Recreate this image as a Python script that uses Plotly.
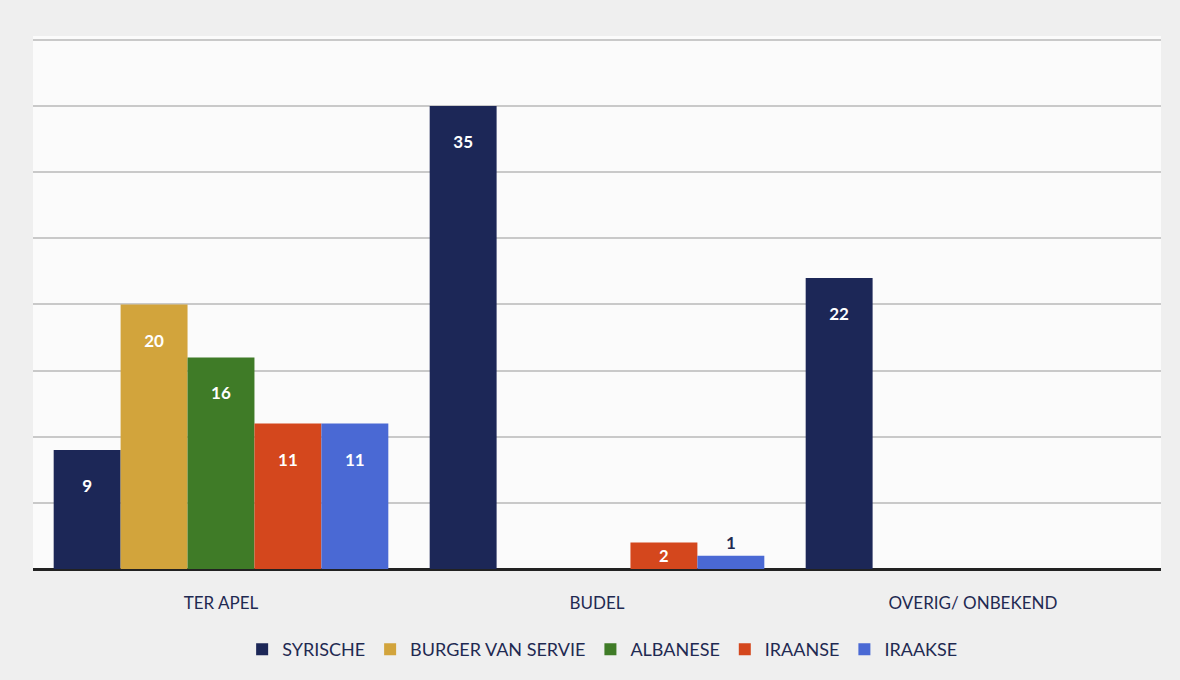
import plotly.graph_objects as go

categories = ["TER APEL", "BUDEL", "OVERIG/ ONBEKEND"]
series_names = ["SYRISCHE", "BURGER VAN SERVIE", "ALBANESE", "IRAANSE", "IRAAKSE"]
syrische = [9, 35, 22]
burger_van_servie = [20, None, None]
albanese = [16, None, None]
iraanse = [11, 2, None]
iraakse = [11, 1, None]
series_values = [syrische, burger_van_servie, albanese, iraanse, iraakse]
colors = ["#1c2757", "#d2a43c", "#3f7b27", "#d4471d", "#4a69d4"]

NAVY = "#1f2a52"
FONT = "Lato"


def label(v):
    if v is None:
        return ""
    return f"\u00a0<br>{v}" if v >= 5 else str(v)


fig = go.Figure()
for name, vals, col in zip(series_names, series_values, colors):
    fig.add_trace(go.Bar(
        name=name, x=categories, y=vals,
        marker=dict(color=col, line=dict(width=0)),
        text=[label(v) for v in vals],
        textposition="auto",
        insidetextanchor="end",
        textangle=0,
        insidetextfont=dict(color="white", size=17, family=FONT, weight="bold"),
        outsidetextfont=dict(color=NAVY, size=17, family=FONT, weight="bold"),
        cliponaxis=False,
    ))

fig.update_layout(
    width=1180, height=680,
    barmode="group", bargap=0.11, bargroupgap=0,
    paper_bgcolor="#efefef", plot_bgcolor="#fbfbfb",
    margin=dict(l=33, r=19, t=36, b=109),
    font=dict(family=FONT, color=NAVY),
    showlegend=True,
    legend=dict(orientation="h", x=0.505, xanchor="center", y=-0.151, yanchor="middle",
                font=dict(size=18, color=NAVY, family=FONT), bgcolor="rgba(0,0,0,0)",
                itemwidth=30, traceorder="normal"),
    xaxis=dict(showgrid=False, tickfont=dict(size=17, color=NAVY, family=FONT),
               ticks="", ticklabelstandoff=22, showline=False, zeroline=False),
    yaxis=dict(range=[0, 40.3], dtick=5, showticklabels=False, showgrid=True,
               gridcolor="#c9c9c9", gridwidth=1.5, zeroline=True,
               zerolinecolor="#222222", zerolinewidth=3, showline=False, ticks=""),
)

fig.write_html("out.html", config={"displayModeBar": False},
               post_script="document.body.style.margin='0';document.body.style.overflow='hidden';")
